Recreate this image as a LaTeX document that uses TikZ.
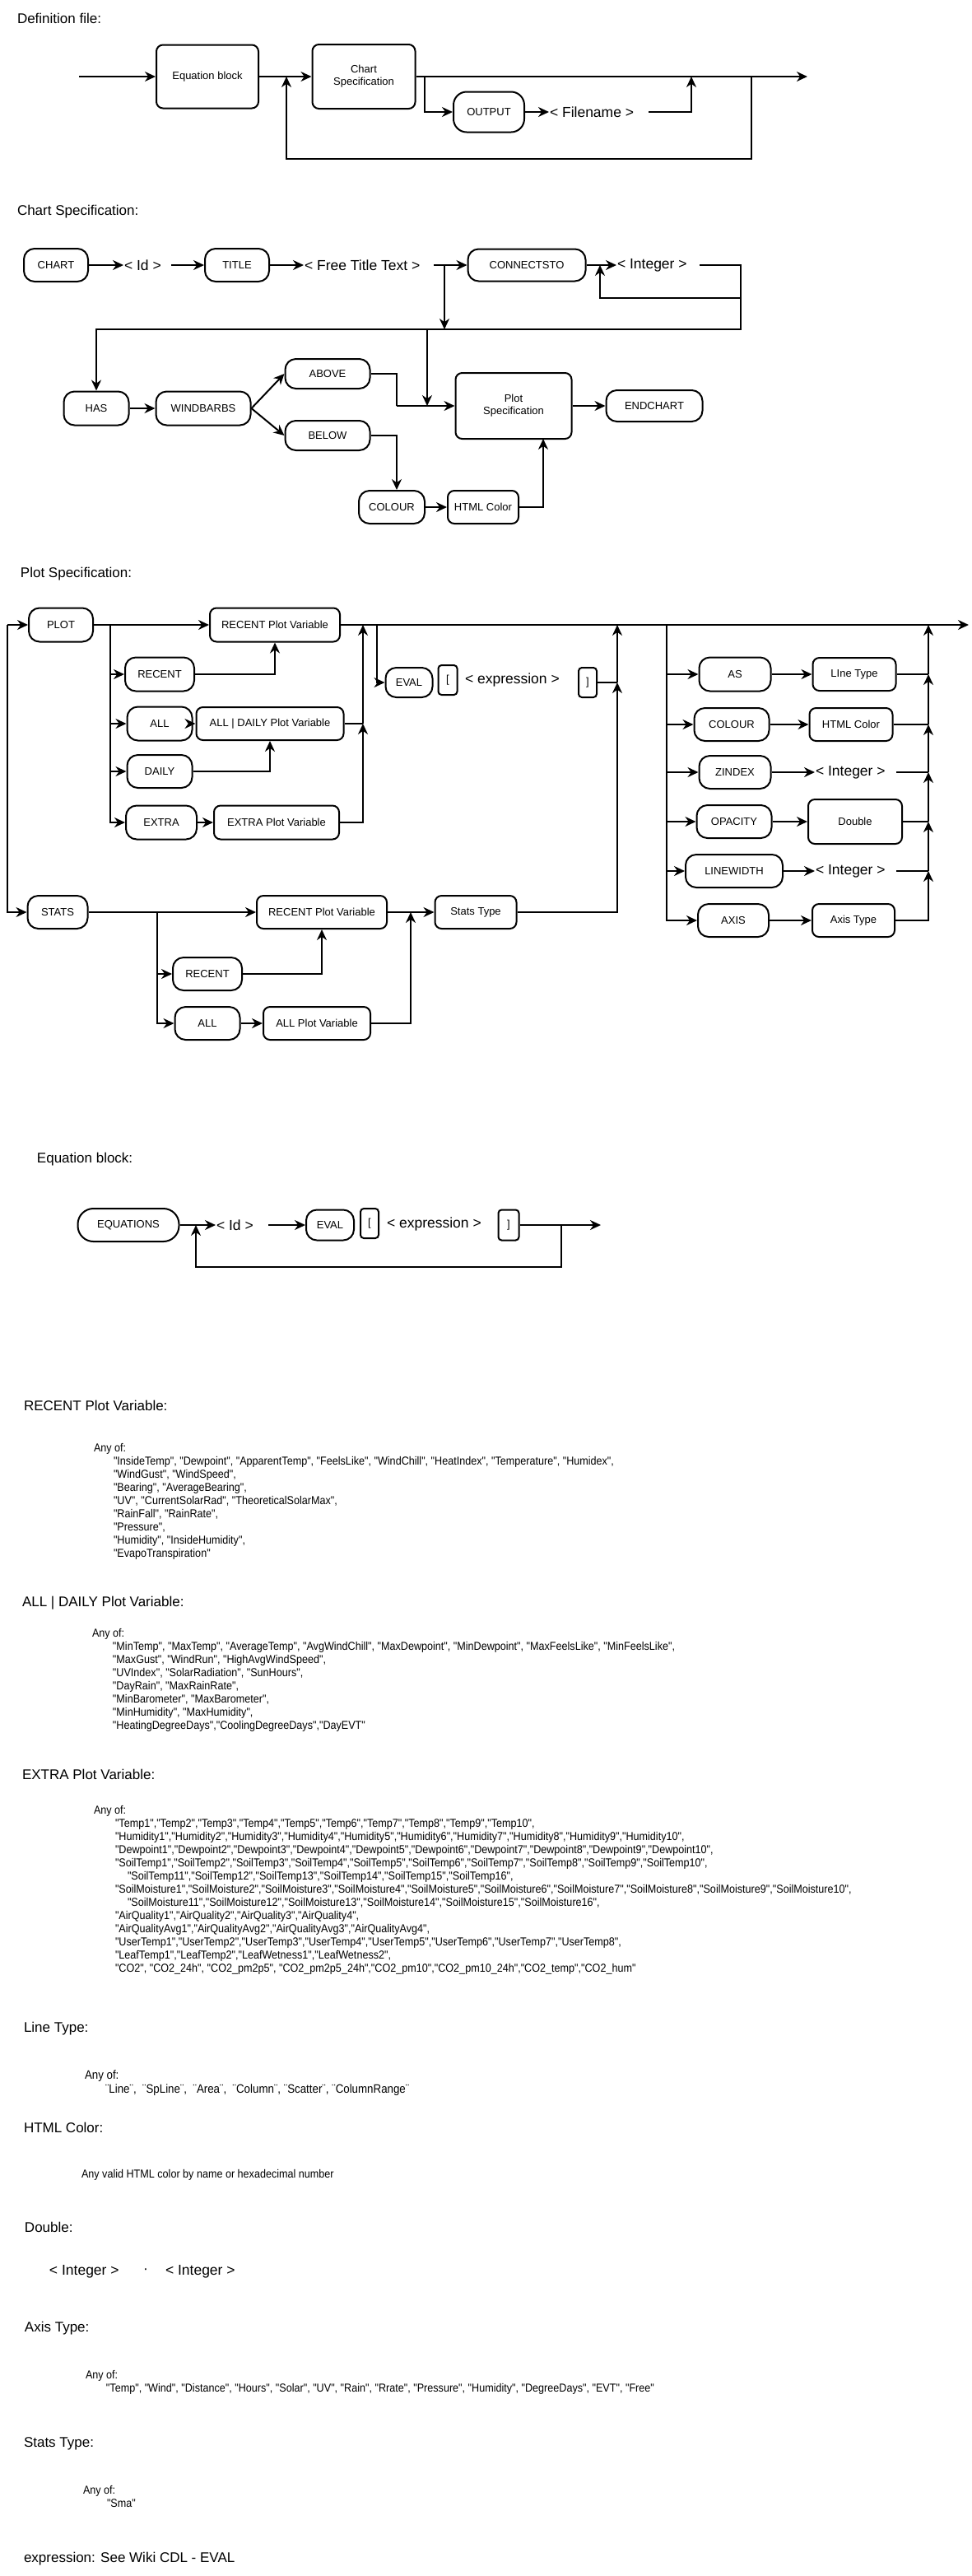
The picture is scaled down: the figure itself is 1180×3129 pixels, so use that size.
\documentclass[tikz,border=0pt]{standalone}
\usepackage{fontspec}
\setmainfont{Liberation Sans}
\newfontfamily\narrowfont[FakeStretch=0.9]{Liberation Sans}
\usetikzlibrary{arrows.meta}
\newcommand{\boxfont}{\fontsize{6.5}{7.5}\selectfont}
\newcommand{\symfont}{\fontsize{8.75}{10}\selectfont}
\newcommand{\hdrfont}{\fontsize{8.5}{10}\selectfont}
\newcommand{\listfont}{\narrowfont\fontsize{7}{8}\selectfont}

\begin{document}
\begin{tikzpicture}[x=0.5pt,y=-0.5pt,line width=1pt,
  >={Stealth[length=6.5pt,width=6pt]},
  kw/.style={draw,rounded corners=6.5pt,inner sep=0pt,font=\boxfont},
  nt/.style={draw,rounded corners=4pt,inner sep=0pt,font=\boxfont,align=center},
  sz/.style 2 args={minimum width=#1pt,minimum height=#2pt},
  sym/.style={anchor=west,inner sep=0pt,font=\symfont},
  hdr/.style={anchor=west,inner sep=0pt,font=\hdrfont},
  anyof/.style={anchor=north west,inner sep=0pt,align=left,font=\listfont}]
\path[fill=white,use as bounding box] (0,0) rectangle (1180,3129);

% Definition file
\node[hdr] (hdrdef) at (20,22) {Definition file:};
\node[nt,sz={62}{38.5}] (eqblk) at (252,93) {Equation block};
\node[nt,sz={62.5}{39}] (chspec) at (442,93) {Chart\\Specification};
\node[kw,sz={43}{24.5},rounded corners=8pt] (output) at (594,136) {OUTPUT};
\node[sym] (fname) at (667,136) {< Filename >};
\coordinate (din) at (96,93);
\coordinate (dout) at (981,93);
\coordinate (dloop) at (348,93);
\coordinate (dopt) at (516,93);
\coordinate (dfn) at (788,136);
\coordinate (dback) at (840,93);
\coordinate (drep) at (913,93);
\draw[->] (din) -- (eqblk);
\draw[->] (eqblk) -- (chspec);
\draw[->] (chspec) -- (dout);
\draw[->] (dopt) |- (output);
\draw[->] (output) -- (fname.west);
\draw[->] (dfn) -| (dback);
\draw[->] (drep) -- ++(0,100) -| (dloop);

% Chart Specification
\node[hdr] (hdrchart) at (20,257) {Chart Specification:};
\node[kw,sz={39}{20}] (chart) at (68,322) {CHART};
\node[sym] (cid) at (150,322) {< Id >};
\node[kw,sz={39}{20}] (title) at (288,322) {TITLE};
\node[sym] (cfree) at (369,322) {< Free Title Text >};
\node[kw,sz={71.5}{19.5}] (connto) at (640,322) {CONNECTSTO};
\node[sym] (cint) at (749,322) {< Integer >};
\node[kw,sz={39.5}{20.5}] (has) at (117,496) {HAS};
\node[kw,sz={57.5}{20.5}] (windb) at (247,496) {WINDBARBS};
\node[kw,sz={51.5}{18}] (above) at (398,454) {ABOVE};
\node[kw,sz={51.5}{18}] (below) at (398,529) {BELOW};
\node[nt,sz={70.5}{40}] (plotspec) at (624,493) {Plot\\Specification};
\node[kw,sz={58.5}{19}] (endchart) at (795,493) {ENDCHART};
\node[kw,sz={40}{20}] (colour) at (476,616) {COLOUR};
\node[nt,sz={43}{20}] (htmlc) at (587,616) {HTML Color};
\coordinate (cidout) at (208,322);
\coordinate (cfreeout) at (527,322);
\coordinate (cdown) at (540,322);
\coordinate (cintout) at (850,322);
\coordinate (cback) at (729,322);
\coordinate (cloop) at (900,362);
\coordinate (cbar) at (900,400);
\coordinate (cplot) at (519,400);
\coordinate (cwb) at (482,493);
\coordinate (ccol) at (660,533);
\draw[->] (chart) -- (cid.west);
\draw[->] (cidout) -- (title);
\draw[->] (title) -- (cfree.west);
\draw[->] (cfreeout) -- (connto);
\draw[->] (connto) -- (cint.west);
\draw[->] (cintout) -| (cbar) -| (has);
\draw[->] (cloop) -| (cback);
\draw[->] (cdown) -- (cdown |- cbar);
\draw[->] (cplot) -- (cplot |- cwb);
\draw[->] (has) -- (windb);
\draw[->] (windb.east) -- (above.west);
\draw[->] (windb.east) -- (below.west);
\draw (above) -| (cwb);
\draw[->] (below) -| (cwb |- colour.north);
\draw[->] (cwb) -- (plotspec);
\draw[->] (plotspec) -- (endchart);
\draw[->] (colour) -- (htmlc);
\draw[->] (htmlc) -| (ccol);

% Plot Specification
\node[hdr] (hdrplot) at (24,697) {Plot Specification:};
\node[kw,sz={39}{20.5}] (plot) at (74,759) {PLOT};
\node[nt,sz={79}{20.5}] (rpv) at (334,759) {RECENT Plot Variable};
\node[kw,sz={42}{20.5}] (recent) at (194,819) {RECENT};
\node[kw,sz={39.5}{20.5}] (all) at (194,879) {ALL};
\node[nt,sz={89.5}{20}] (adpv) at (328,879) {ALL | DAILY Plot Variable};
\node[kw,sz={39.5}{20}] (daily) at (194,937) {DAILY};
\node[kw,sz={43}{20.5}] (extra) at (196,999) {EXTRA};
\node[nt,sz={76}{20.5}] (epv) at (336,999) {EXTRA Plot Variable};
\node[kw,sz={28.5}{18}] (eval) at (497,829) {EVAL};
\node[nt,sz={11.5}{18},rounded corners=2pt] (lbr) at (544,826) {[};
\node[sym] (expr) at (564,826) {< expression >};
\node[nt,sz={11}{18},rounded corners=2pt] (rbr) at (714,829) {]};
\node[kw,sz={36.5}{20}] (stats) at (70,1108) {STATS};
\node[nt,sz={79}{20}] (rpv2) at (391,1108) {RECENT Plot Variable};
\node[kw,sz={42}{20}] (recent2) at (252,1183) {RECENT};
\node[kw,sz={39.5}{20}] (all2) at (252,1243) {ALL};
\node[nt,sz={65}{20}] (apv) at (385,1243) {ALL Plot Variable};
\node[nt,sz={49.5}{20}] (statst) at (578,1108) {Stats Type};
\node[kw,sz={43.5}{20.5}] (as) at (893,819) {AS};
\node[nt,sz={50.5}{20}] (linet) at (1038,819) {LIne Type};
\node[kw,sz={45.5}{20}] (colour2) at (889,880) {COLOUR};
\node[nt,sz={50.5}{20}] (htmlc2) at (1034,880) {HTML Color};
\node[kw,sz={43.5}{20}] (zindex) at (893,938) {ZINDEX};
\node[sym] (int2) at (990,938) {< Integer >};
\node[kw,sz={45.5}{20}] (opacity) at (892,998) {OPACITY};
\node[nt,sz={57}{27}] (double) at (1039,998) {Double};
\node[kw,sz={59}{20}] (linew) at (892,1058) {LINEWIDTH};
\node[sym] (int3) at (990,1058) {< Integer >};
\node[kw,sz={43}{20}] (axis) at (891,1118) {AXIS};
\node[nt,sz={50}{20}] (axist) at (1037,1118) {Axis Type};
\coordinate (pin) at (9,759);
\coordinate (pend) at (1177,759);
\coordinate (pfork) at (134,759);
\coordinate (pj1) at (441,759);
\coordinate (pj2) at (441,879);
\coordinate (peval) at (458,759);
\coordinate (pj3) at (750,759);
\coordinate (pj4) at (750,829);
\coordinate (psfork) at (191,1108);
\coordinate (psj) at (499,1108);
\coordinate (prfork) at (810,759);
\coordinate (pq0) at (1128,759);
\coordinate (pq1) at (1128,819);
\coordinate (pq2) at (1128,880);
\coordinate (pq3) at (1128,938);
\coordinate (pq4) at (1128,998);
\coordinate (pq5) at (1128,1058);
\coordinate (int2out) at (1089,938);
\coordinate (int3out) at (1089,1058);
\draw[->] (pin) -- (plot);
\draw[->] (pin) |- (stats);
\draw[->] (plot) -- (rpv);
\draw[->] (rpv) -- (pend);
\draw[->] (pfork) |- (recent);
\draw[->] (pfork) |- (all);
\draw[->] (pfork) |- (daily);
\draw[->] (pfork) |- (extra);
\draw[->] (recent) -| (rpv.south);
\draw[->] (all) -- (adpv);
\draw[->] (daily) -| (adpv.south);
\draw[->] (extra) -- (epv);
\draw[->] (epv) -| (pj2);
\draw (adpv) -- (pj2);
\draw[->] (pj2) -- (pj1);
\draw[->] (peval) |- (eval);
\draw (rbr) -- (pj4);
\draw[->] (pj4) -- (pj3);
\draw[->] (stats) -- (rpv2);
\draw[->] (psfork) |- (recent2);
\draw[->] (psfork) |- (all2);
\draw[->] (recent2) -| (rpv2.south);
\draw[->] (all2) -- (apv);
\draw[->] (apv) -| (psj);
\draw[->] (rpv2) -- (statst);
\draw[->] (statst) -| (pj4);
\draw[->] (prfork) |- (as);
\draw[->] (prfork) |- (colour2);
\draw[->] (prfork) |- (zindex);
\draw[->] (prfork) |- (opacity);
\draw[->] (prfork) |- (linew);
\draw[->] (prfork) |- (axis);
\draw[->] (as) -- (linet);
\draw[->] (colour2) -- (htmlc2);
\draw[->] (zindex) -- (int2.west);
\draw[->] (opacity) -- (double);
\draw[->] (linew) -- (int3.west);
\draw[->] (axis) -- (axist);
\draw (linet) -- (pq1);
\draw (htmlc2) -- (pq2);
\draw (int2out) -- (pq3);
\draw (double) -- (pq4);
\draw (int3out) -- (pq5);
\draw[->] (axist) -| (pq5);
\draw[->] (pq5) -- (pq4);
\draw[->] (pq4) -- (pq3);
\draw[->] (pq3) -- (pq2);
\draw[->] (pq2) -- (pq1);
\draw[->] (pq1) -- (pq0);

% Equation block
\node[hdr] (hdreq) at (44,1408) {Equation block:};
\node[kw,sz={61.5}{20},rounded corners=9.5pt] (equations) at (156,1488) {EQUATIONS};
\node[sym] (eid) at (262,1488) {< Id >};
\node[kw,sz={29}{18.5}] (eval2) at (401,1488) {EVAL};
\node[nt,sz={11}{18},rounded corners=2pt] (lbr2) at (449,1486) {[};
\node[sym] (expr2) at (469,1487) {< expression >};
\node[nt,sz={12.5}{18.5},rounded corners=2pt] (rbr2) at (618,1488) {]};
\coordinate (eidout) at (326,1488);
\coordinate (eend) at (730,1488);
\coordinate (erep) at (682,1488);
\coordinate (eback) at (238,1488);
\draw[->] (equations) -- (eid.west);
\draw[->] (eidout) -- (eval2);
\draw[->] (rbr2) -- (eend);
\draw[->] (erep) -- ++(0,51) -| (eback);

% Definitions of the terms
\node[hdr] (hdrrecent) at (28,1707) {RECENT Plot Variable:};
\node[anyof] (lstrecent) at (113,1752) {Any of:\\
\hspace*{12pt}"InsideTemp", "Dewpoint", "ApparentTemp", "FeelsLike", "WindChill", "HeatIndex", "Temperature", "Humidex",\\
\hspace*{12pt}"WindGust", "WindSpeed",\\
\hspace*{12pt}"Bearing", "AverageBearing",\\
\hspace*{12pt}"UV", "CurrentSolarRad", "TheoreticalSolarMax",\\
\hspace*{12pt}"RainFall", "RainRate",\\
\hspace*{12pt}"Pressure",\\
\hspace*{12pt}"Humidity", "InsideHumidity",\\
\hspace*{12pt}"EvapoTranspiration"};

\node[hdr] (hdralldaily) at (26,1947) {ALL | DAILY Plot Variable:};
\node[anyof] (lstalldaily) at (111,1977) {Any of:\\
\hspace*{12.5pt}"MinTemp", "MaxTemp", "AverageTemp", "AvgWindChill", "MaxDewpoint", "MinDewpoint", "MaxFeelsLike", "MinFeelsLike",\\
\hspace*{12.5pt}"MaxGust", "WindRun", "HighAvgWindSpeed",\\
\hspace*{12.5pt}"UVIndex", "SolarRadiation", "SunHours",\\
\hspace*{12.5pt}"DayRain", "MaxRainRate",\\
\hspace*{12.5pt}"MinBarometer", "MaxBarometer",\\
\hspace*{12.5pt}"MinHumidity", "MaxHumidity",\\
\hspace*{12.5pt}"HeatingDegreeDays","CoolingDegreeDays","DayEVT"};

\node[hdr] (hdrextra) at (26,2155) {EXTRA Plot Variable:};
\node[anyof] (lstextra) at (113,2192) {Any of:\\
\hspace*{13pt}"Temp1","Temp2","Temp3","Temp4","Temp5","Temp6","Temp7","Temp8","Temp9","Temp10",\\
\hspace*{13pt}"Humidity1","Humidity2","Humidity3","Humidity4","Humidity5","Humidity6","Humidity7","Humidity8","Humidity9","Humidity10",\\
\hspace*{13pt}"Dewpoint1","Dewpoint2","Dewpoint3","Dewpoint4","Dewpoint5","Dewpoint6","Dewpoint7","Dewpoint8","Dewpoint9","Dewpoint10",\\
\hspace*{13pt}"SoilTemp1","SoilTemp2","SoilTemp3","SoilTemp4","SoilTemp5","SoilTemp6","SoilTemp7","SoilTemp8","SoilTemp9","SoilTemp10",\\
\hspace*{20.5pt}"SoilTemp11","SoilTemp12","SoilTemp13","SoilTemp14","SoilTemp15","SoilTemp16",\\
\hspace*{13pt}"SoilMoisture1","SoilMoisture2","SoilMoisture3","SoilMoisture4","SoilMoisture5","SoilMoisture6","SoilMoisture7","SoilMoisture8","SoilMoisture9","SoilMoisture10",\\
\hspace*{20.5pt}"SoilMoisture11","SoilMoisture12","SoilMoisture13","SoilMoisture14","SoilMoisture15","SoilMoisture16",\\
\hspace*{13pt}"AirQuality1","AirQuality2","AirQuality3","AirQuality4",\\
\hspace*{13pt}"AirQualityAvg1","AirQualityAvg2","AirQualityAvg3","AirQualityAvg4",\\
\hspace*{13pt}"UserTemp1","UserTemp2","UserTemp3","UserTemp4","UserTemp5","UserTemp6","UserTemp7","UserTemp8",\\
\hspace*{13pt}"LeafTemp1","LeafTemp2","LeafWetness1","LeafWetness2",\\
\hspace*{13pt}"CO2", "CO2\_24h", "CO2\_pm2p5", "CO2\_pm2p5\_24h","CO2\_pm10","CO2\_pm10\_24h","CO2\_temp","CO2\_hum"};

\node[hdr] (hdrline) at (28,2464) {Line Type:};
\node[anyof,font=\narrowfont\fontsize{7.4}{8.5}\selectfont] (lstline) at (102,2514) {Any of:\\
\hspace*{12.5pt}¨Line¨,\ \ ¨SpLine¨,\ \ ¨Area¨,\ \ ¨Column¨, ¨Scatter¨, ¨ColumnRange¨};

\node[hdr] (hdrhtml) at (28,2584) {HTML Color:};
\node[anyof] (lsthtml) at (98,2634) {Any valid HTML color by name or hexadecimal number};

\node[hdr] (hdrdouble) at (29,2705) {Double:};
\node[sym] (dint1) at (59,2759) {< Integer >};
\node[font=\symfont,inner sep=0pt] (ddot) at (177,2759) {·};
\node[sym] (dint2) at (200,2759) {< Integer >};

\node[hdr] (hdraxis) at (29,2828) {Axis Type:};
\node[anyof] (lstaxis) at (103,2878) {Any of:\\
\hspace*{12.5pt}"Temp", "Wind", "Distance", "Hours", "Solar", "UV", "Rain", "Rrate", "Pressure", "Humidity", "DegreeDays", "EVT", "Free"};

\node[hdr] (hdrstats) at (28,2968) {Stats Type:};
\node[anyof] (lststats) at (100,3018) {Any of:\\
\hspace*{14.5pt}"Sma"};

\node[hdr] (hdrexpr) at (28,3108) {expression: See Wiki CDL - EVAL};
\end{tikzpicture}
\end{document}
